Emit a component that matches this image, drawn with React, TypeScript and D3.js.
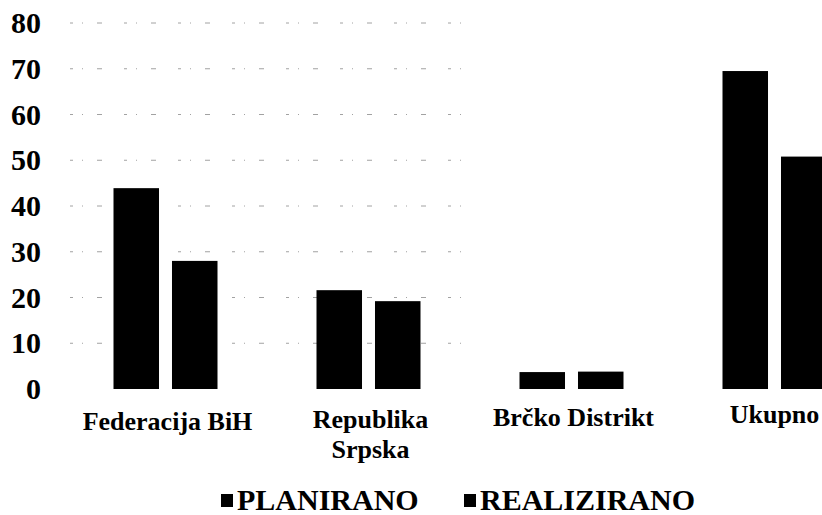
import React from "react";
import * as d3 from "d3";

const categories = ["Federacija BiH", "Republika Srpska", "Brčko Distrikt", "Ukupno"];
const categoryLines = [["Federacija BiH"], ["Republika", "Srpska"], ["Brčko Distrikt"], ["Ukupno"]];
const series = ["PLANIRANO", "REALIZIRANO"];
const planirano = [43.9, 21.6, 3.7, 69.5];
const realizirano = [28.0, 19.2, 3.8, 50.8];
const yTicks = [0, 10, 20, 30, 40, 50, 60, 70, 80];

const W = 822;
const H = 515;
const SERIF = "Times New Roman";

export default function App() {
  const x = d3.scaleBand<string>().domain(categories).range([64, 876]).paddingInner(0).paddingOuter(0);
  const bw = x.bandwidth();
  const xs = d3
    .scaleBand<string>()
    .domain(series)
    .range([bw / 2 - 52, bw / 2 + 52])
    .paddingInner(0.222);
  const y = d3.scaleLinear().domain([0, 80]).range([389, 23]);
  const values = [planirano, realizirano];
  const labelX = (c: string, i: number) => (x(c) as number) + bw / 2 + (i === 3 ? 0 : 2);
  const legendX = [221, 464];

  return (
    <svg width={W} height={H} style={{ position: "absolute", left: 0, top: 0 }}>
      <style>{`text { font-family: "Liberation Serif", "Times New Roman", serif; font-weight: bold; }`}</style>
      <rect x={0} y={0} width={W} height={H} fill="#fff" />
      {yTicks.filter((t) => t > 0).map((t) => (
        <line
          key={"g" + t}
          x1={70}
          x2={470}
          y1={y(t)}
          y2={y(t)}
          stroke="#666"
          strokeWidth={1}
          strokeDasharray="3 9 1 14 5 22"
          opacity={0.6}
        />
      ))}
      {yTicks.map((t) => (
        <text
          key={"t" + t}
          x={41}
          y={y(t)}
          dy="0.34em"
          textAnchor="end"
          fontSize={30}
          fontWeight="bold"
          fontFamily={SERIF}
          fill="#000"
        >
          {t}
        </text>
      ))}
      {categories.map((c, i) => (
        <g key={c} transform={`translate(${x(c)},0)`}>
          {series.map((s, j) => (
            <rect
              key={s}
              x={xs(s)}
              y={y(values[j][i])}
              width={xs.bandwidth()}
              height={y(0) - y(values[j][i])}
              fill="#000"
            />
          ))}
        </g>
      ))}
      {categories.map((c, i) => (
        <text
          key={"c" + c}
          y={430 - 2.2 * i}
          textAnchor="middle"
          fontSize={26}
          fontWeight="bold"
          fontFamily={SERIF}
          fill="#000"
        >
          {categoryLines[i].map((ln, k) => (
            <tspan key={k} x={labelX(c, i)} dy={k === 0 ? 0 : 30}>
              {ln}
            </tspan>
          ))}
        </text>
      ))}
      {series.map((s, j) => {
        const lx = legendX[j];
        return (
          <g key={"l" + s}>
            <rect x={lx} y={494} width={12} height={13} fill="#000" />
            <text x={lx + 16} y={510} fontSize={30} fontWeight="bold" fontFamily={SERIF} fill="#000">
              {s}
            </text>
          </g>
        );
      })}
    </svg>
  );
}
